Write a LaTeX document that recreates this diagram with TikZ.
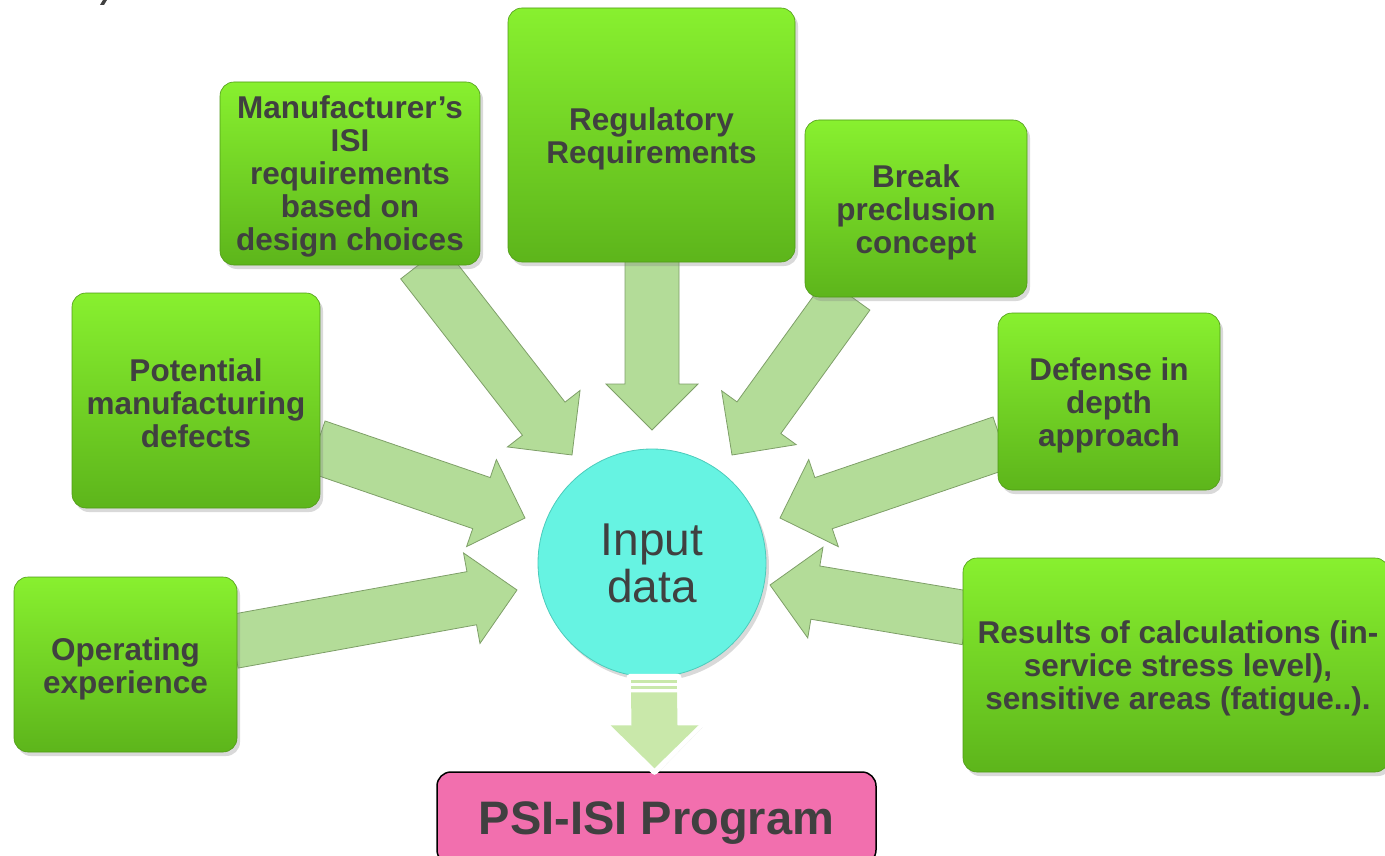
\documentclass[tikz,border=0pt]{standalone}
\usepackage{fontspec}
\setmainfont{Liberation Sans}
\usetikzlibrary{calc,shadows,backgrounds}
\definecolor{txt}{HTML}{404040}
\definecolor{gtop}{HTML}{88F02F}
\definecolor{gbot}{HTML}{5DB51B}
\definecolor{arrfill}{HTML}{B3DC98}
\definecolor{arredge}{HTML}{7E9F68}
\definecolor{cyanfill}{HTML}{66F3E2}
\definecolor{cyanedge}{HTML}{4CCBBB}
\definecolor{pinkfill}{HTML}{F26FAE}
\definecolor{downfill}{HTML}{C9E8AA}
\tikzset{
  gbox/.style={rounded corners=14pt, top color=gtop, bottom color=gbot,
    draw=gbot!85!black, line width=0.6pt, inner sep=0pt,
    drop shadow={shadow xshift=3pt,shadow yshift=-4pt,opacity=0.3}},
  gtext/.style={text=txt, align=center, inner sep=0pt,
    font=\fontsize{31.5}{33}\selectfont\bfseries},
  barrow/.style={fill=arrfill, draw=arredge, line width=0.8pt, line join=miter},
}
\newcommand\blockarrow[2]{%
  \coordinate (hb) at ($(#2)!46pt!(#1)$);
  \draw[barrow] ($(#1)!27pt!90:(#2)$) -- ($(hb)!27pt!90:(#2)$) -- ($(hb)!46pt!90:(#2)$)
    -- (#2) -- ($(hb)!46pt!-90:(#2)$) -- ($(hb)!27pt!-90:(#2)$) -- ($(#1)!27pt!-90:(#2)$) -- cycle;}
\begin{document}
\begin{tikzpicture}[x=1pt,y=-1pt]
\useasboundingbox (0,0) rectangle (1385,856);
% fragment of cut title
\fill[txt] (100,5) -- (104,5) -- (107,0) -- (103,0) -- cycle;

% boxes
\node[gbox, minimum width=260, minimum height=183] (man) at (350,173.5) {};
\node[gtext] (mant) at ($(man)+(0,3)$) {Manufacturer’s\\ISI\\requirements\\based on\\design choices};
\node[gbox, minimum width=287, minimum height=254] (reg) at (651.5,135) {};
\node[gtext] (regt) at ($(reg)+(0,4)$) {Regulatory\\Requirements};
\node[gbox, minimum width=222, minimum height=177] (brk) at (916,208.5) {};
\node[gtext] (brkt) at ($(brk)+(0,4)$) {Break\\preclusion\\concept};
\node[gbox, minimum width=248, minimum height=215] (pot) at (196,400.5) {};
\node[gtext] (pott) at ($(pot)+(0,2.5)$) {Potential\\manufacturing\\defects};
\node[gbox, minimum width=222, minimum height=177] (def) at (1109,401.5) {};
\node[gtext] (deft) at ($(def)+(0,4)$) {Defense in\\depth\\approach};
\node[gbox, minimum width=223, minimum height=175] (ope) at (125.5,664.5) {};
\node[gtext] (opet) at ($(ope)+(0,4)$) {Operating\\experience};
\node[gbox, minimum width=426, minimum height=214] (res) at (1176,665) {};
\node[gtext] (rest) at ($(res)+(2,3)$) {Results of calculations (in-\\service stress level),\\sensitive areas (fatigue..).};

% centre circle
\node[circle, minimum size=228, inner sep=0pt, fill=cyanfill, draw=cyanedge, line width=0.8pt,
  text=txt, align=center, font=\fontsize{46}{47}\selectfont,
  drop shadow={shadow xshift=3pt,shadow yshift=-4pt,opacity=0.3}] (inp) at (652,563) {Input\\data};

% result box
\node[rounded corners=14pt, fill=pinkfill, draw=black, line width=1.5pt,
  minimum width=439, minimum height=92, inner sep=0pt] (psi) at (656.5,818) {};
\node[text=txt, inner sep=0pt, font=\fontsize{47}{50}\selectfont\bfseries] (psit)
  at ($(psi)+(0,5)$) {PSI-ISI Program};

% arrows into the circle
\begin{scope}[on background layer]
  \coordinate (s1) at ($(man.south)+(72,-3)$);   \coordinate (t1) at ($(inp.center)+(-80,-108)$);
  \coordinate (s2) at ($(reg.south)+(0.5,-3)$);  \coordinate (t2) at ($(inp.center)+(0,-133)$);
  \coordinate (s3) at ($(brk.south)+(-68,-3)$);  \coordinate (t3) at ($(inp.center)+(80,-108)$);
  \coordinate (s4) at ($(pot.east)+(-4,46)$);    \coordinate (t4) at ($(inp.center)+(-127,-45)$);
  \coordinate (s5) at ($(def.west)+(4,41)$);     \coordinate (t5) at ($(inp.center)+(128,-45)$);
  \coordinate (s6) at ($(ope.east)+(-4,-23)$);   \coordinate (t6) at ($(inp.center)+(-135,27)$);
  \coordinate (s7) at ($(res.west)+(4,-47)$);    \coordinate (t7) at ($(inp.center)+(118,22)$);
  \blockarrow{s1}{t1}
  \blockarrow{s2}{t2}
  \blockarrow{s3}{t3}
  \blockarrow{s4}{t4}
  \blockarrow{s5}{t5}
  \blockarrow{s6}{t6}
  \blockarrow{s7}{t7}
\end{scope}

% down arrow to the program box
\coordinate (dt) at ($(inp.south)+(2,0)$);
\coordinate (dtip) at ($(psi.north)+(-2,0)$);
\draw[white, fill=white, line width=7pt, line join=round,
  drop shadow={shadow xshift=2pt,shadow yshift=-3pt,opacity=0.25}]
  ($(dt)+(-24,0)$) -- ($(dt)+(24,0)$) -- ($(dtip)+(24,-47)$) -- ($(dtip)+(46,-47)$)
  -- (dtip) -- ($(dtip)+(-46,-47)$) -- ($(dtip)+(-24,-47)$) -- cycle;
\fill[downfill] ($(dt)+(-23,3)$) rectangle ($(dt)+(23,6)$);
\fill[downfill] ($(dt)+(-23,9)$) rectangle ($(dt)+(23,12)$);
\fill[downfill] ($(dt)+(-23,15)$) -- ($(dt)+(23,15)$) -- ($(dtip)+(23,-46)$) -- ($(dtip)+(44,-46)$)
  -- ($(dtip)+(0,-3)$) -- ($(dtip)+(-44,-46)$) -- ($(dtip)+(-23,-46)$) -- cycle;
\end{tikzpicture}
\end{document}
